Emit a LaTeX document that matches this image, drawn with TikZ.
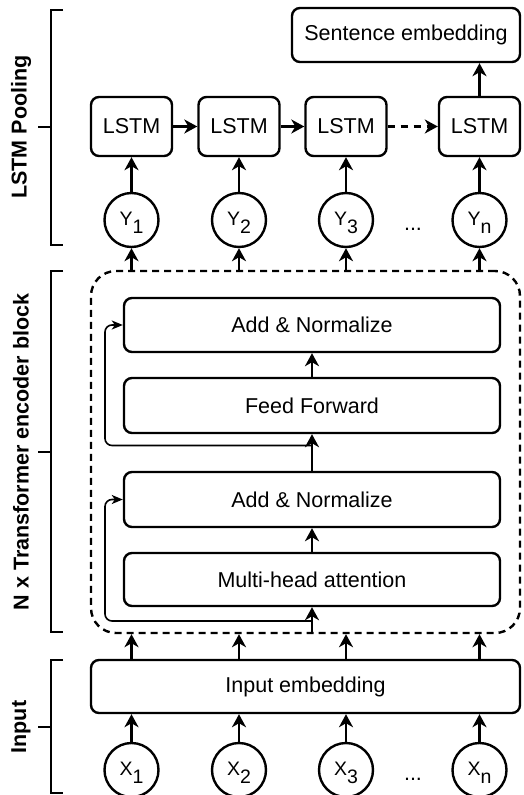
\documentclass[tikz,border=0pt]{standalone}
\usepackage{fontspec}
\setmainfont{Liberation Sans}
\usetikzlibrary{arrows.meta,calc}
\newcommand{\circtxt}[2]{\raisebox{3pt}{#1}\raisebox{-5pt}[0pt][0pt]{#2}}
\begin{document}
\begin{tikzpicture}[x=1pt,y=-1pt,
  every node/.style={font=\fontsize{21.5}{25}\selectfont},
  box/.style={draw, line width=2.4pt, rounded corners=8pt, inner sep=0pt, align=center},
  circ/.style={draw, line width=2.4pt, circle, minimum size=54pt, inner sep=0pt, font=\fontsize{19.5}{22}\selectfont},
  arr/.style={line width=2.4pt, -{Stealth[length=13pt,width=14pt,inset=4pt]}},
  res/.style={line width=1.6pt, rounded corners=7pt, -{Stealth[length=11pt,width=9pt,inset=3pt]}},
  brk/.style={line width=2.4pt},
  lbl/.style={font=\fontsize{21.5}{24}\selectfont\bfseries, rotate=90}
]
\useasboundingbox (0,0) rectangle (523,795);
% LSTM pooling part
\node[box, minimum width=228pt, minimum height=54pt] (se) at (406,35) {Sentence embedding};
\foreach \i/\x in {1/131.5,2/239,3/346,4/479.5}{
  \node[box, minimum width=81pt, minimum height=59pt] (l\i) at (\x,126.5) {LSTM};
}
\node[circ] (y1) at (131.5,220) {\circtxt{Y}{1}};
\node[circ] (y2) at (239,220) {\circtxt{Y}{2}};
\node[circ] (y3) at (346,220) {\circtxt{Y}{3}};
\node[circ] (y4) at (479.5,220) {\circtxt{Y}{n}};
\node[anchor=base] (yd) at (413,230) {...};
% encoder
\node[draw, line width=2.4pt, dash pattern=on 7pt off 5pt, rounded corners=25pt, minimum width=429pt, minimum height=362pt, inner sep=0pt] (enc) at (305.5,452) {};
\node[box, minimum width=376pt, minimum height=54pt] (an1) at (312,325) {Add \& Normalize};
\node[box, minimum width=376pt, minimum height=55pt] (ff) at (312,405.5) {Feed Forward};
\node[box, minimum width=376pt, minimum height=55pt] (an2) at (312,499.5) {Add \& Normalize};
\node[box, minimum width=376pt, minimum height=53pt] (mha) at (312,579.5) {Multi-head attention};
% input
\node[box, minimum width=429pt, minimum height=53pt] (ie) at (305.5,686.5) {Input embedding};
\node[circ] (x1) at (131.5,770) {\circtxt{X}{1}};
\node[circ] (x2) at (239,770) {\circtxt{X}{2}};
\node[circ] (x3) at (346,770) {\circtxt{X}{3}};
\node[circ] (x4) at (479.5,770) {\circtxt{X}{n}};
\node[anchor=base] (xd) at (413,780) {...};
% arrows top
\draw[arr] (l4.north) -- (se.south -| l4.north);
\draw[arr] (l1.east) -- (l2.west);
\draw[arr] (l2.east) -- (l3.west);
\draw[arr, dash pattern=on 7pt off 6pt] (l3.east) -- (l4.west);
\foreach \i in {1,2,3,4}{
  \draw[arr] (y\i.north) -- (l\i.south);
  \draw[arr] (enc.north -| y\i.south) -- (y\i.south);
  \draw[arr] (ie.north -| x\i.north) -- (enc.south -| x\i.north);
  \draw[arr] (x\i.north) -- (ie.south -| x\i.north);
}
% encoder internal
\draw[arr] (enc.south -| mha.south) -- (mha.south);
\draw[arr] (mha.north) -- (an2.south);
\draw[arr] (an2.north) -- (ff.south);
\draw[arr] (ff.north) -- (an1.south);
\coordinate (rx) at (105,0);
\coordinate (r1) at (312,621);
\coordinate (r2) at (312,445.5);
\draw[res] (r1) -- (r1 -| rx) |- (an2.west);
\draw[res] (r2) -- (r2 -| rx) |- (an1.west);
% brackets
\coordinate (b1t) at (51,10); \coordinate (b1b) at (51,245); \coordinate (b1m) at (51,127);
\coordinate (b2t) at (51,271); \coordinate (b2b) at (51,632); \coordinate (b2m) at (51,452);
\coordinate (b3t) at (51,660); \coordinate (b3b) at (51,793); \coordinate (b3m) at (51,727);
\foreach \b in {b1,b2,b3}{
  \draw[brk] ($(\b t)+(12,0)$) -- (\b t) -- (\b b) -- ($(\b b)+(12,0)$);
  \draw[brk] (\b m) -- ($(\b m)+(-13,0)$);
}
\node[lbl] (t1) at (21,127) {LSTM Pooling};
\node[lbl] (t2) at (21,452) {N x Transformer encoder block};
\node[lbl] (t3) at (21,727) {Input};
\end{tikzpicture}
\end{document}
